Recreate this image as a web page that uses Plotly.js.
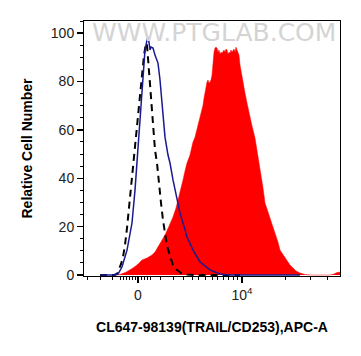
<!DOCTYPE html>
<html>
<head>
<meta charset="utf-8">
<script src="https://cdn.plot.ly/plotly-3.0.1.min.js"></script>
<style>html,body{margin:0;padding:0;background:#fff;}#chart{width:361px;height:356px;}</style>
</head>
<body>
<div id="chart"></div>
<script>
// x in display channels (biexponential display scale, 0..1024), y in % of max
var sampleX = [124,144,168,196,216,232,252,272,284,296,312,324,340,356,368,376,388,396,404,412,424,432,436,444,456,464,472,476,480,484,492,496,500,504,508,512,516,520,524,528,532,536,540,544,548,552,560,564,568,572,576,580,584,588,592,596,600,604,608,612,616,620,624,632,640,644,652,664,672,684,692,700,708,716,724,732,744,756,764,776,784,800,812,824,836,848,864,884,904,984,1000,1012,1024];
var sampleY = [0,0.2,1.2,2.9,4.5,6.2,7,8.3,9.5,11.6,14.5,16.5,20.2,24,27.7,31,35.1,39.3,43,46.3,49.6,52.9,55,57,62,65.3,67.4,70.2,73.1,75.6,79.8,80.6,79.3,79.8,80.6,82.6,88,92.1,93.8,94.2,93.8,92.1,93,91.3,92.1,91.7,93,92.1,93.4,93,91.3,92.1,91.7,93,92.1,93,93.4,92.1,94.2,93,92.1,90.9,86.8,81.4,77.3,75.2,71.1,64.9,61.6,56.6,51.7,47.5,42.6,36,29.8,26.9,23.6,19.8,17.4,13.6,10.3,7.9,6.2,4.1,2.9,1.7,0.8,0.2,0,0,0.4,1,1.2];

var isotypeX = [64,120,136,152,172,192,204,212,224,236,244,252,256,260,264,268,276,284,292,296,304,316,324,336,344,356,372,384,400,412,436,464,504,544,584,864];
var isotypeY = [0,0,0.4,3.3,10.3,21.5,35.1,47.5,65.3,80.6,93,97.1,98.3,96.3,93,94.2,93.8,90.9,88.8,87.6,80.6,68.2,57,49.6,46.3,39.3,31,25.6,20.2,15.7,10.3,5.4,2.1,0.4,0,0];

var blankX = [64,120,132,140,148,156,164,172,184,196,208,216,224,232,240,248,252,256,260,264,268,272,276,280,284,292,300,308,316,324,332,344,356,372,388,412,444,624];
var blankY = [0,0,0.4,2.1,4.5,7.4,12.4,19.4,31.8,45.5,55.8,64.9,73.6,82.6,90.9,95.9,95,89.7,83.9,78.5,73.1,67.4,60.7,55,51.7,46.3,37.2,29.8,22.7,17.4,12,7.9,4.1,2.1,0.8,0.2,0,0];

var yTicks = [0,20,40,60,80,100];
var xTickVals = [216,632];
var xTickText = ['0','10<sup>4</sup>'];
var xMinorVals = [12,64,112,144,156,168,180,192,204,228,240,252,264,304,356,396,432,456,484,512,532,556,576,596,612,804,904,972];

var traces = [
  {x: sampleX, y: sampleY, type:'scatter', mode:'lines', fill:'tozeroy',
   fillcolor:'#ff0000', line:{color:'#ff0000', width:0.5}, hoverinfo:'skip'},
  {x: blankX, y: blankY, type:'scatter', mode:'lines',
   line:{color:'#000000', width:2, dash:'7px,5px'}, hoverinfo:'skip'},
  {x: isotypeX, y: isotypeY, type:'scatter', mode:'lines',
   line:{color:'#1a1a90', width:1.5}, hoverinfo:'skip'}
];

var font = 'Liberation Sans, Arial, sans-serif';
var layout = {
  width:361, height:356,
  margin:{l:84, r:21, t:21, b:80, pad:0},
  paper_bgcolor:'#ffffff', plot_bgcolor:'#ffffff',
  showlegend:false,
  xaxis:{
    range:[0,1024], showgrid:false, zeroline:false,
    showline:true, mirror:true, linecolor:'#000', linewidth:1,
    tickmode:'array', tickvals:xTickVals, ticktext:xTickText,
    ticks:'outside', ticklen:6, tickwidth:1.5, tickcolor:'#000',
    minor:{tickmode:'array', tickvals:xMinorVals, ticks:'outside', ticklen:3, tickwidth:1, tickcolor:'#000', showgrid:false},
    tickfont:{family:font, size:14, color:'#222'},
    title:{text:'<b>CL647-98139(TRAIL/CD253),APC-A</b>', font:{family:font, size:14, color:'#000'}, standoff:20}
  },
  yaxis:{
    range:[-0.4,105], showgrid:false, zeroline:false,
    showline:true, mirror:true, linecolor:'#000', linewidth:1,
    tickmode:'array', tickvals:yTicks,
    ticks:'outside', ticklen:6, tickwidth:1.5, tickcolor:'#000',
    minor:{dtick:5, ticks:'outside', ticklen:3, tickwidth:1, tickcolor:'#000', showgrid:false},
    tickfont:{family:font, size:14, color:'#222'},
    title:{text:'<b>Relative Cell Number</b>', font:{family:font, size:14, color:'#000'}, standoff:14}
  },
  annotations:[{
    text:'WWW.PTGLAB.COM', xref:'paper', yref:'paper', x:0.508, y:0.953,
    xanchor:'center', yanchor:'middle', showarrow:false,
    font:{family:'DejaVu Sans, sans-serif', size:25, color:'#d4d4d4'}
  }]
};

Plotly.newPlot('chart', traces, layout, {staticPlot:true, displayModeBar:false});
</script>
</body>
</html>
